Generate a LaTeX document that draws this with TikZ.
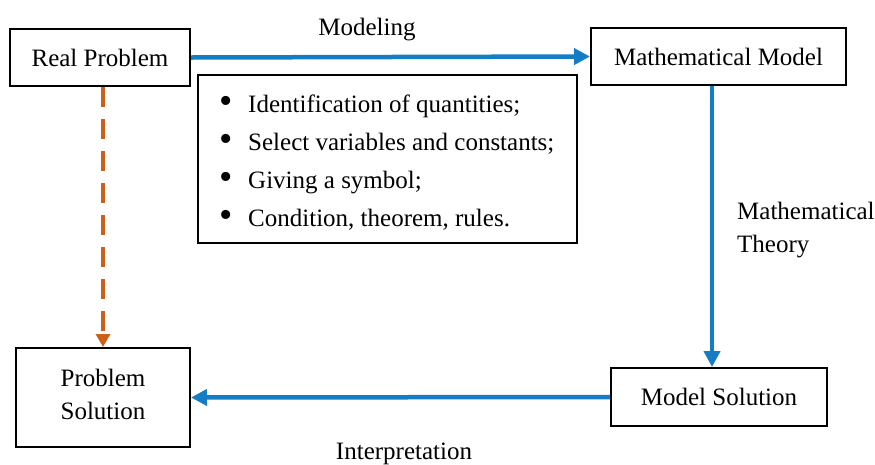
\documentclass[tikz,border=0pt]{standalone}
\usepackage{fontspec}
\setmainfont{Liberation Serif}
\usetikzlibrary{arrows.meta}
\definecolor{flowblue}{RGB}{20,125,195}
\definecolor{dashorange}{RGB}{205,95,25}
\newcommand{\bigbul}{\makebox[31pt][l]{\hspace*{2pt}\raisebox{-1pt}{\fontsize{38}{38}\selectfont\textbullet}}}
\tikzset{
  box/.style={draw=black, line width=2pt, fill=white, inner sep=0pt, align=center,
    font=\fontsize{25}{33}\selectfont},
  lbl/.style={inner sep=0pt, font=\fontsize{25}{33}\selectfont},
  flow/.style={draw=flowblue, line width=4.5pt, -{Triangle[length=16pt,width=16pt]}},
  dashflow/.style={draw=dashorange, line width=4.5pt, dash pattern=on 20pt off 12pt,
    -{Triangle[length=13pt,width=14pt]}}
}
\begin{document}
\begin{tikzpicture}[x=1pt,y=-1pt]
\useasboundingbox (0,0) rectangle (875,464);
\node[box, minimum width=180pt, minimum height=57pt] (rp) at (100,57.5) {Real Problem};
\node[box, minimum width=255pt, minimum height=57pt] (mm) at (718.5,56.5) {Mathematical Model};
\node[box, minimum width=174pt, minimum height=99pt] (ps) at (103,397.5) {};
\node[lbl, align=center] (pstext) at (103,394) {Problem\\Solution};
\node[box, minimum width=216pt, minimum height=58pt] (ms) at (719,397) {Model Solution};
\node[box, minimum width=379pt, minimum height=168pt] (bl) at (387.5,159) {};
\node[lbl, anchor=north west, align=left, font=\fontsize{25}{38}\selectfont] (items) at (217,95)
  {\bigbul Identification of quantities;\\
   \bigbul Select variables and constants;\\
   \bigbul Giving a symbol;\\
   \bigbul Condition, theorem, rules.};
\node[lbl, anchor=north west, align=left] (theory) at (737,202) {Mathematical\\Theory};
\node[lbl, anchor=base] (modeling) at (367,35) {Modeling};
\node[lbl, anchor=base] (interp) at (404,459) {Interpretation};
\draw[flow] (rp.east) -- (mm.west);
\draw[flow] ([xshift=-6.5pt]mm.south) -- ([xshift=-7pt]ms.north);
\draw[flow] (ms.west) -- (ps.east);
\draw[dashflow] (rp.south -| ps.north) -- (ps.north);
\end{tikzpicture}
\end{document}
